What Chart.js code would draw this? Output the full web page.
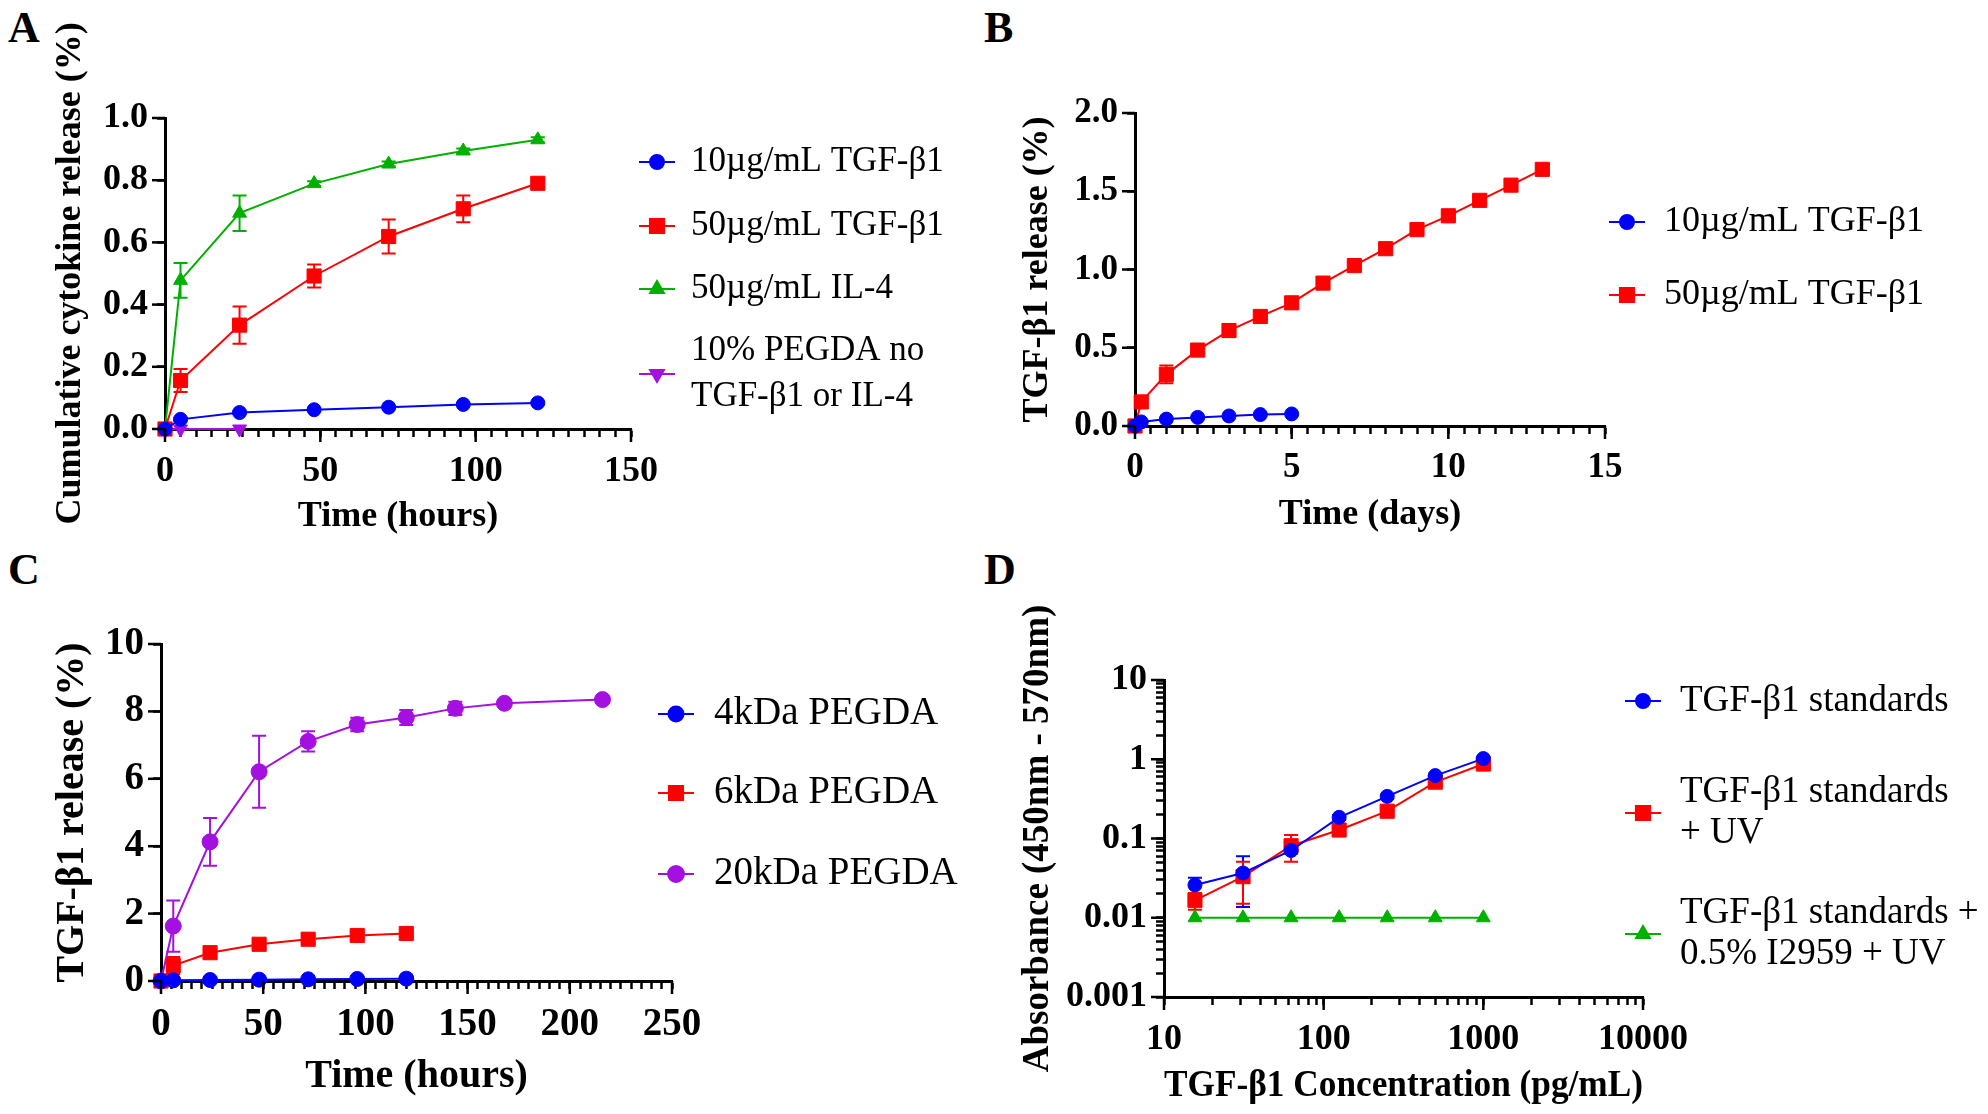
<!DOCTYPE html>
<html>
<head>
<meta charset="utf-8">
<script src="https://cdn.jsdelivr.net/npm/chart.js@4.4.0/dist/chart.umd.min.js"></script>
<style>
  body { margin: 0; background: #fff; width: 1988px; height: 1114px; position: relative; overflow: hidden; font-family: "Liberation Serif", serif; }
  canvas { position: absolute; }
  .letra { position: absolute; font-weight: bold; font-size: 44px; line-height: 1; color: #000; }
</style>
</head>
<body>
<div class="letra" style="left:8px;top:6px">A</div>
<div class="letra" style="left:984px;top:6px">B</div>
<div class="letra" style="left:8px;top:548px">C</div>
<div class="letra" style="left:984px;top:548px">D</div>
<canvas id="chartA" width="994" height="557" style="left:0;top:0"></canvas>
<canvas id="chartB" width="994" height="557" style="left:994px;top:0"></canvas>
<canvas id="chartC" width="994" height="557" style="left:0;top:557px"></canvas>
<canvas id="chartD" width="994" height="557" style="left:994px;top:557px"></canvas>
<script>
// A - liberação cumulativa (horas)
const horasA = [0, 5, 24, 48, 72, 96, 120];
const tgf10A = [0, 0.031, 0.053, 0.062, 0.070, 0.079, 0.084];
const tgf10AErr = [0, 0.004, 0.004, 0.004, 0.004, 0.004, 0.004];
const tgf50A = [0, 0.156, 0.334, 0.492, 0.619, 0.708, 0.790];
const tgf50AErr = [0, 0.037, 0.060, 0.037, 0.055, 0.043, 0.012];
const il4A = [0, 0.478, 0.694, 0.789, 0.852, 0.894, 0.930];
const il4AErr = [0, 0.056, 0.057, 0.008, 0.008, 0.008, 0.008];
const horasControleA = [0, 5, 24];
const controleA = [0, 0, 0];
const rotulosXA = [0, 50, 100, 150];
const rotulosYA = [0, 0.2, 0.4, 0.6, 0.8, 1.0];

// B - liberação de TGF-b1 (dias)
const dias10B = [0, 0.2, 1, 2, 3, 4, 5];
const tgf10B = [0, 0.026, 0.044, 0.055, 0.064, 0.073, 0.077];
const dias50B = [0, 0.2, 1, 2, 3, 4, 5, 6, 7, 8, 9, 10, 11, 12, 13];
const tgf50B = [0, 0.154, 0.33, 0.485, 0.61, 0.70, 0.787, 0.913, 1.025, 1.133, 1.255, 1.343, 1.442, 1.539, 1.64];
const tgf50BErr = [0, 0.02, 0.057, 0.02, 0.04, 0.025, 0.02, 0.02, 0.02, 0.02, 0.02, 0.02, 0.02, 0.02, 0.02];
const rotulosXB = [0, 5, 10, 15];
const rotulosYB = [0, 0.5, 1.0, 1.5, 2.0];

// C - PEGDA de diferentes pesos
const horasC = [0, 6, 24, 48, 72, 96, 120];
const kda4C = [0, 0.02, 0.03, 0.04, 0.05, 0.06, 0.07];
const kda6C = [0, 0.46, 0.84, 1.09, 1.24, 1.35, 1.41];
const kda6CErr = [0, 0.25, 0.12, 0.1, 0.1, 0.1, 0.1];
const horas20C = [0, 6, 24, 48, 72, 96, 120, 144, 168, 216];
const kda20C = [0, 1.63, 4.13, 6.21, 7.11, 7.61, 7.82, 8.09, 8.24, 8.35];
const kda20CErr = [0, 0.76, 0.71, 1.07, 0.30, 0.20, 0.22, 0.20, 0.1, 0.1];
const rotulosXC = [0, 50, 100, 150, 200, 250];
const rotulosYC = [0, 2, 4, 6, 8, 10];

// D - curva padrão (escala log)
const concD = [15.625, 31.25, 62.5, 125, 250, 500, 1000];
const padroesD = [0.0259, 0.0367, 0.0706, 0.185, 0.34, 0.622, 1.02];
const padroesDErr = [0.006, 0.023, 0.006, 0.012, 0.02, 0.03, 0.05];
const padroesUVD = [0.0166, 0.033, 0.081, 0.128, 0.221, 0.514, 0.87];
const padroesUVDErr = [0.004, 0.018, 0.03, 0.01, 0.02, 0.03, 0.04];
const padroesI2959D = [0.01, 0.01, 0.01, 0.01, 0.01, 0.01, 0.01];
const rotulosXD = [10, 100, 1000, 10000];
const rotulosYD = [0.001, 0.01, 0.1, 1, 10];

const AZUL = '#0000ff', VERMELHO = '#ff0000', VERDE = '#00b000', ROXO = '#a310e0';
const FONTE = '"Liberation Serif", "Times New Roman", serif';
const TICK_MENOR = 8, TICK_EXTRA = 5;

function pontos(xs, ys) {
  return xs.map((x, i) => ({ x: x, y: ys[i] }));
}

function serie(label, xs, ys, cor, estilo, raio, erros, rotacao) {
  return {
    label: label,
    data: pontos(xs, ys),
    erros: erros || null,
    borderColor: cor,
    backgroundColor: cor,
    borderWidth: 2,
    pointStyle: estilo,
    pointRadius: raio,
    pointRotation: rotacao || 0,
    pointBorderWidth: 1,
    pointBackgroundColor: cor,
    pointBorderColor: cor,
    tension: 0,
    clip: false
  };
}

// barras de erro desenhadas pelas escalas do gráfico
const barrasErro = {
  id: 'barrasErro',
  beforeDatasetsDraw(chart) {
    const ctx = chart.ctx;
    const xs = chart.scales.x, ys = chart.scales.y;
    chart.data.datasets.forEach(ds => {
      if (!ds.erros) return;
      ctx.save();
      ctx.strokeStyle = ds.borderColor;
      ctx.lineWidth = 2;
      ds.data.forEach((p, i) => {
        const e = ds.erros[i];
        if (!e) return;
        const px = xs.getPixelForValue(p.x);
        const baixo = ys.type === 'logarithmic' ? Math.max(p.y - e, p.y * 0.05) : p.y - e;
        const y1 = ys.getPixelForValue(p.y + e);
        const y2 = ys.getPixelForValue(baixo);
        ctx.beginPath();
        ctx.moveTo(px, y1); ctx.lineTo(px, y2);
        ctx.moveTo(px - 7, y1); ctx.lineTo(px + 7, y1);
        ctx.moveTo(px - 7, y2); ctx.lineTo(px + 7, y2);
        ctx.stroke();
      });
      ctx.restore();
    });
  }
};

// ticks com rótulo ficam um pouco mais compridos
const ticksMaiores = {
  id: 'ticksMaiores',
  afterDraw(chart) {
    const ctx = chart.ctx;
    const ca = chart.chartArea;
    ctx.save();
    ctx.strokeStyle = '#000';
    ctx.lineWidth = 2.5;
    ['x', 'y'].forEach(k => {
      const s = chart.scales[k];
      s.ticks.forEach(t => {
        if (!t.label) return;
        const p = s.getPixelForValue(t.value);
        ctx.beginPath();
        if (k === 'x') { ctx.moveTo(p, ca.bottom); ctx.lineTo(p, ca.bottom + TICK_MENOR + TICK_EXTRA); }
        else { ctx.moveTo(ca.left, p); ctx.lineTo(ca.left - TICK_MENOR - TICK_EXTRA, p); }
        ctx.stroke();
      });
    });
    ctx.restore();
  }
};

// legenda no estilo do GraphPad (linha curta + marcador)
const legendaPainel = {
  id: 'legendaPainel',
  afterDraw(chart, args, opts) {
    const ctx = chart.ctx;
    ctx.save();
    chart.data.datasets.forEach((ds, i) => {
      const yc = opts.linhas[i];
      ctx.strokeStyle = ds.borderColor;
      ctx.fillStyle = ds.backgroundColor;
      ctx.lineWidth = 2;
      ctx.beginPath();
      ctx.moveTo(opts.x - 18, yc);
      ctx.lineTo(opts.x + 18, yc);
      ctx.stroke();
      Chart.helpers.drawPoint(ctx, { pointStyle: ds.pointStyle, radius: ds.pointRadius, rotation: ds.pointRotation, borderWidth: 1 }, opts.x, yc);
      ctx.fillStyle = '#000';
      ctx.font = opts.fonte + 'px ' + FONTE;
      ctx.textBaseline = 'middle';
      ctx.textAlign = 'left';
      const partes = ds.label.split('\n');
      partes.forEach((t, k) => {
        ctx.fillText(t, opts.textoX, yc + (k - (partes.length - 1) / 2) * opts.entreLinhas);
      });
    });
    ctx.restore();
  }
};

function listaTicks(min, max, passo) {
  const out = [];
  const n = Math.round((max - min) / passo);
  for (let i = 0; i <= n; i++) out.push(Math.round((min + i * passo) * 1000) / 1000);
  return out;
}

function listaLog(dMin, dMax) {
  const out = [];
  for (let d = dMin; d < dMax; d++) {
    for (let m = 1; m <= 9; m++) out.push(Number((m * Math.pow(10, d)).toPrecision(6)));
  }
  out.push(Math.pow(10, dMax));
  return out;
}

function eixo(cfg) {
  const horizontal = cfg.lado === 'x';
  return {
    type: cfg.tipo || 'linear',
    position: horizontal ? 'bottom' : 'left',
    min: cfg.min,
    max: cfg.max,
    afterBuildTicks: s => { s.ticks = cfg.ticks.map(v => ({ value: v })); },
    afterFit: s => { if (horizontal) s.height = cfg.tamanho; else s.width = cfg.tamanho; },
    grid: { display: true, drawOnChartArea: false, drawTicks: true, tickLength: TICK_MENOR, tickColor: '#000', tickWidth: 2.5 },
    border: { display: true, color: '#000', width: 3 },
    ticks: {
      autoSkip: false,
      maxRotation: 0,
      minRotation: 0,
      padding: (horizontal ? 8 : 4) + TICK_EXTRA + 4 - TICK_MENOR + 4,
      color: '#000',
      font: { family: FONTE, size: cfg.fonteTick, weight: 'bold' },
      callback: v => {
        const achou = cfg.rotulos.find(r => Math.abs(r - v) < 1e-9);
        return achou === undefined ? '' : cfg.formato(achou);
      }
    },
    title: {
      display: true,
      text: cfg.titulo,
      color: '#000',
      padding: { top: 4, bottom: 4 },
      font: { family: FONTE, size: cfg.fonteTitulo, weight: 'bold' }
    }
  };
}

function montar(id, datasets, escalas, padding, legenda) {
  return new Chart(document.getElementById(id), {
    type: 'line',
    data: { datasets: datasets },
    options: {
      responsive: false,
      animation: false,
      devicePixelRatio: 1,
      events: [],
      layout: { padding: padding },
      plugins: { legend: { display: false }, tooltip: { enabled: false }, legendaPainel: legenda },
      scales: escalas
    },
    plugins: [barrasErro, ticksMaiores, legendaPainel]
  });
}

const fmt1 = v => v.toFixed(1);
const fmtInt = v => String(v);

// Painel A
montar('chartA', [
  serie('10µg/mL TGF-β1', horasA, tgf10A, AZUL, 'circle', 7, tgf10AErr),
  serie('50µg/mL TGF-β1', horasA, tgf50A, VERMELHO, 'rect', 10, tgf50AErr),
  serie('50µg/mL IL-4', horasA, il4A, VERDE, 'triangle', 8, il4AErr),
  serie('10% PEGDA no\nTGF-β1 or IL-4', horasControleA, controleA, ROXO, 'triangle', 8, null, 180)
], {
  x: eixo({ lado: 'x', min: 0, max: 150, ticks: listaTicks(0, 150, 5), rotulos: rotulosXA, formato: fmtInt, titulo: 'Time (hours)', tamanho: 113, fonteTick: 36, fonteTitulo: 36 }),
  y: eixo({ lado: 'y', min: 0, max: 1, ticks: listaTicks(0, 1, 0.2), rotulos: rotulosYA, formato: fmt1, titulo: 'Cumulative cytokine release (%)', tamanho: 120, fonteTick: 36, fonteTitulo: 36 })
}, { left: 45, top: 118, right: 363, bottom: 15 },
{ x: 657, textoX: 691, linhas: [162, 226, 289, 374], entreLinhas: 46, fonte: 35 });

// Painel B
montar('chartB', [
  serie('10µg/mL TGF-β1', dias10B, tgf10B, AZUL, 'circle', 7, null),
  serie('50µg/mL TGF-β1', dias50B, tgf50B, VERMELHO, 'rect', 10, tgf50BErr)
], {
  x: eixo({ lado: 'x', min: 0, max: 15, ticks: listaTicks(0, 15, 0.5), rotulos: rotulosXB, formato: fmtInt, titulo: 'Time (days)', tamanho: 114, fonteTick: 35, fonteTitulo: 36 }),
  y: eixo({ lado: 'y', min: 0, max: 2, ticks: listaTicks(0, 2, 0.5), rotulos: rotulosYB, formato: fmt1, titulo: 'TGF-β1 release (%)', tamanho: 123, fonteTick: 35, fonteTitulo: 36 })
}, { left: 18, top: 113, right: 383, bottom: 17 },
{ x: 633, textoX: 670, linhas: [222, 295], entreLinhas: 42, fonte: 36 });

// Painel C
montar('chartC', [
  serie('4kDa PEGDA', horasC, kda4C, AZUL, 'circle', 7.5, null),
  serie('6kDa PEGDA', horasC, kda6C, VERMELHO, 'rect', 10, kda6CErr),
  serie('20kDa PEGDA', horas20C, kda20C, ROXO, 'circle', 8, kda20CErr)
], {
  x: eixo({ lado: 'x', min: 0, max: 250, ticks: listaTicks(0, 250, 5), rotulos: rotulosXC, formato: fmtInt, titulo: 'Time (hours)', tamanho: 124, fonteTick: 39, fonteTitulo: 40 }),
  y: eixo({ lado: 'y', min: 0, max: 10, ticks: listaTicks(0, 10, 2), rotulos: rotulosYC, formato: fmtInt, titulo: 'TGF-β1 release (%)', tamanho: 116, fonteTick: 39, fonteTitulo: 40 })
}, { left: 45, top: 87, right: 322, bottom: 9 },
{ x: 676, textoX: 714, linhas: [157, 236, 317], entreLinhas: 44, fonte: 39 });

// Painel D
montar('chartD', [
  serie('TGF-β1 standards', concD, padroesD, AZUL, 'circle', 7, padroesDErr),
  serie('TGF-β1 standards\n+ UV', concD, padroesUVD, VERMELHO, 'rect', 10, padroesUVDErr),
  serie('TGF-β1 standards +\n0.5% I2959 + UV', concD, padroesI2959D, VERDE, 'triangle', 8, null)
], {
  x: eixo({ lado: 'x', tipo: 'logarithmic', min: 10, max: 10000, ticks: listaLog(1, 4), rotulos: rotulosXD, formato: fmtInt, titulo: 'TGF-β1 Concentration (pg/mL)', tamanho: 116, fonteTick: 36, fonteTitulo: 37 }),
  y: eixo({ lado: 'y', tipo: 'logarithmic', min: 0.001, max: 10, ticks: listaLog(-3, 1), rotulos: rotulosYD, formato: fmtInt, titulo: 'Absorbance (450nm - 570nm)', tamanho: 152, fonteTick: 36, fonteTitulo: 37 })
}, { left: 18, top: 123, right: 345, bottom: 1 },
{ x: 649, textoX: 686, linhas: [144, 256, 377], entreLinhas: 41, fonte: 37 });
</script>
</body>
</html>
